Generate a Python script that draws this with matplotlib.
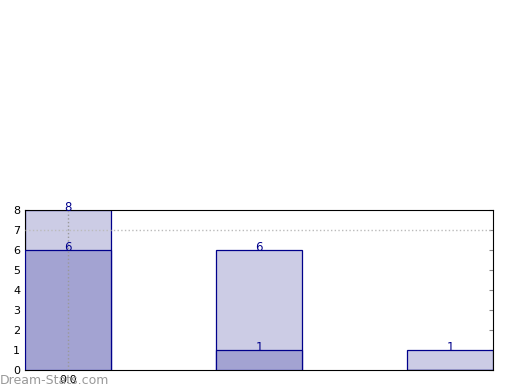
import matplotlib
matplotlib.use('Agg')
import matplotlib.pyplot as plt
import numpy as np

# data
positions = [0, 1, 2]
totals = [8, 6, 1]
parts = [6, 1, 0]
tick_labels = ['0.0']

light = '#ccccE5'
dark = '#a3a3d2'
edge = '#00008b'

fig = plt.figure(figsize=(5.2, 3.9), dpi=100)
ax = fig.add_axes([25 / 520, 1 - 370 / 390, 468 / 520, 160 / 390])

width = 0.45
ax.bar(positions, totals, width=width, color=light, edgecolor=edge, linewidth=0.9, zorder=2)
ax.bar(positions, parts, width=width, color=dark, edgecolor=edge, linewidth=0.9, zorder=3)

# value labels
for x, v in zip(positions, totals):
    ax.annotate(str(v), (x, v), xytext=(0, -0.5), textcoords='offset points',
                ha='center', va='baseline', color=edge, fontsize=8.5, zorder=5)
for x, v in zip(positions, parts):
    if v > 0:
        ax.annotate(str(v), (x, v), xytext=(0, -0.5), textcoords='offset points',
                    ha='center', va='baseline', color=edge, fontsize=8.5, zorder=5)

ax.set_xlim(-width / 2, 2 + width / 2)
ax.set_ylim(0, 8)
ax.set_yticks(range(0, 9))
ax.set_xticks([0])
ax.set_xticklabels(tick_labels)

# dotted grid lines
ax.axhline(7, color='#bbbbbb', linestyle=':', linewidth=1, zorder=4)
ax.axvline(0, color='#999999', linestyle=':', linewidth=1, zorder=4)

ax.tick_params(direction='in', length=3, labelsize=8, top=True, right=True, color='#888888')
for s in ax.spines.values():
    s.set_linewidth(0.8)

fig.text(0 / 520, 1 - 380 / 390, 'Dream-Stats.com', color='#999999', fontsize=9,
         ha='left', va='center')

fig.savefig('out.png', dpi=100)
